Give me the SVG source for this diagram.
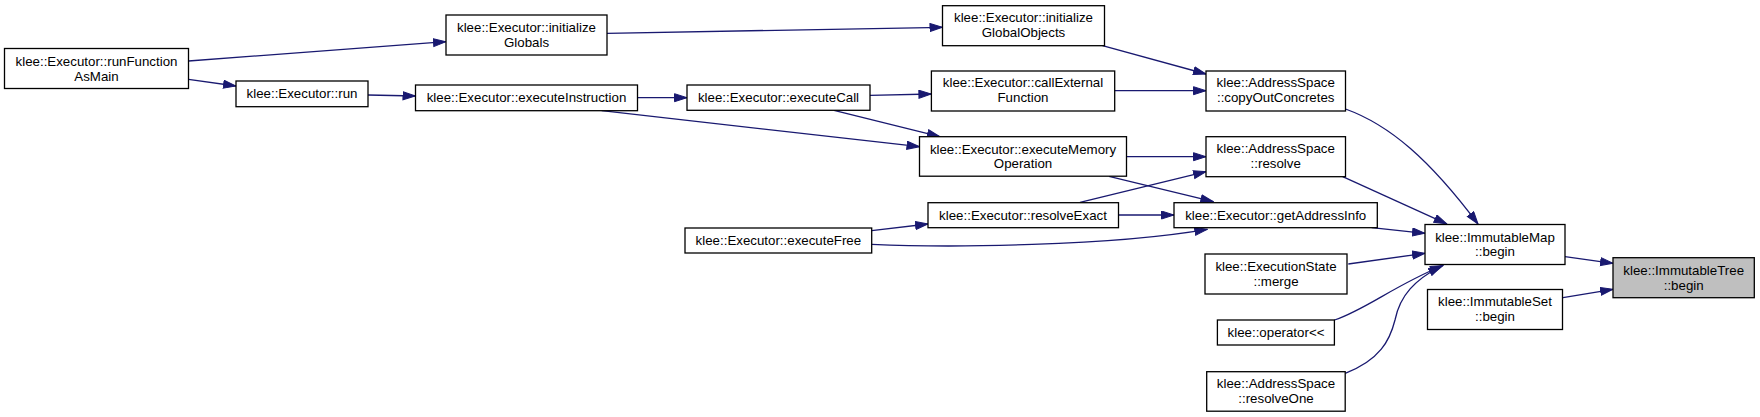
<svg xmlns="http://www.w3.org/2000/svg" width="1760" height="417" viewBox="0 0 1760 417">
<style>
.n rect{fill:#fff;stroke:#000;stroke-width:1.3}
.n text{font-family:"Liberation Sans",Arial,Helvetica,sans-serif;font-size:13.3px;fill:#000;text-anchor:middle}
.hl rect{fill:#bfbfbf}
.e path{fill:none;stroke:#191970;stroke-width:1.3;marker-end:url(#ah)}
</style>
<defs>
<marker id="ah" markerWidth="14" markerHeight="10" refX="13" refY="4.5" orient="auto" markerUnits="userSpaceOnUse">
<path d="M0.5,0.5 L13,4.5 L0.5,8.5 z" fill="#191970" stroke="#191970" stroke-width="1"/>
</marker>
</defs>
<rect width="1760" height="417" fill="#fff"/>
<g class="e" id="edges">
<path d="M188.5,61 L446,41.7"/>
<path d="M188.5,79.3 L236,86"/>
<path d="M368,95 L415.5,96"/>
<path d="M607,33.3 L942.5,27.3"/>
<path d="M637.3,97.7 L687,97.7"/>
<path d="M601.7,110.7 L919.5,146.7"/>
<path d="M869.8,95.3 L931.4,94"/>
<path d="M834,110.3 L939.8,136.7"/>
<path d="M1102.5,45.7 L1206,74"/>
<path d="M1114.7,90.7 L1206,90.7"/>
<path d="M1126.7,156.7 L1206,156.7"/>
<path d="M1109,176.3 L1213.3,201.7"/>
<path d="M1080,202.3 L1206,171.7"/>
<path d="M1118.5,215 L1174,215"/>
<path d="M871.7,230.7 L928,224"/>
<path d="M871.7,244.3 C950,248 1110,246 1207.3,229.3"/>
<path d="M1345.5,109 C1390,125 1430,160 1478,224"/>
<path d="M1342.7,176.7 L1446.7,223.8"/>
<path d="M1371.7,227.7 L1425,233.3"/>
<path d="M1348.3,264 L1425,253.3"/>
<path d="M1334.5,320 C1365,310 1395,285 1443,265.5"/>
<path d="M1345.2,373.3 C1380,360 1390,340 1395,320 C1400,295 1415,280 1441,266"/>
<path d="M1565,256.7 L1613,263.3"/>
<path d="M1563,297.7 L1613,289.3"/>
</g>
<g class="n" id="runFunctionAsMain"><rect x="4.5" y="48.5" width="184" height="40"/><text x="96.5" y="65.5">klee::Executor::runFunction</text><text x="96.5" y="80.5">AsMain</text></g>
<g class="n" id="initializeGlobals"><rect x="446" y="15" width="161" height="40"/><text x="526.5" y="31.5">klee::Executor::initialize</text><text x="526.5" y="46.5">Globals</text></g>
<g class="n" id="run"><rect x="236" y="81" width="132" height="25.7"/><text x="302" y="98.3">klee::Executor::run</text></g>
<g class="n" id="executeInstruction"><rect x="415.5" y="85" width="222" height="25.7"/><text x="526.5" y="102.3">klee::Executor::executeInstruction</text></g>
<g class="n" id="initializeGlobalObjects"><rect x="942.5" y="5.7" width="162" height="40"/><text x="1023.5" y="22">klee::Executor::initialize</text><text x="1023.5" y="37">GlobalObjects</text></g>
<g class="n" id="executeCall"><rect x="687" y="85" width="183" height="25.3"/><text x="778.5" y="102">klee::Executor::executeCall</text></g>
<g class="n" id="callExternalFunction"><rect x="931.4" y="71" width="183.3" height="40"/><text x="1023" y="87.3">klee::Executor::callExternal</text><text x="1023" y="102.3">Function</text></g>
<g class="n" id="executeMemoryOperation"><rect x="919.5" y="136.7" width="207" height="39.5"/><text x="1023" y="153.5">klee::Executor::executeMemory</text><text x="1023" y="168">Operation</text></g>
<g class="n" id="resolveExact"><rect x="928" y="202.7" width="190.5" height="25"/><text x="1023" y="219.7">klee::Executor::resolveExact</text></g>
<g class="n" id="executeFree"><rect x="685" y="228" width="186.7" height="25"/><text x="778.4" y="245">klee::Executor::executeFree</text></g>
<g class="n" id="copyOutConcretes"><rect x="1206" y="71" width="139.5" height="40"/><text x="1275.7" y="87.3">klee::AddressSpace</text><text x="1275.7" y="102.3">::copyOutConcretes</text></g>
<g class="n" id="resolve"><rect x="1206" y="136.7" width="139.5" height="40"/><text x="1275.7" y="153">klee::AddressSpace</text><text x="1275.7" y="168">::resolve</text></g>
<g class="n" id="getAddressInfo"><rect x="1174" y="202.7" width="203.3" height="25"/><text x="1275.7" y="219.7">klee::Executor::getAddressInfo</text></g>
<g class="n" id="merge"><rect x="1205" y="254" width="142" height="40"/><text x="1276" y="270.5">klee::ExecutionState</text><text x="1276" y="285.5">::merge</text></g>
<g class="n" id="operator"><rect x="1217.4" y="320" width="117" height="25"/><text x="1276" y="337">klee::operator&lt;&lt;</text></g>
<g class="n" id="resolveOne"><rect x="1206.7" y="371.7" width="138.5" height="39.5"/><text x="1276" y="387.7">klee::AddressSpace</text><text x="1276" y="402.5">::resolveOne</text></g>
<g class="n" id="ImmutableMapBegin"><rect x="1425" y="224.5" width="140" height="40"/><text x="1495" y="241.5">klee::ImmutableMap</text><text x="1495" y="256">::begin</text></g>
<g class="n" id="ImmutableSetBegin"><rect x="1427.5" y="289.5" width="135" height="40"/><text x="1495" y="306">klee::ImmutableSet</text><text x="1495" y="321">::begin</text></g>
<g class="n hl" id="ImmutableTreeBegin"><rect x="1613" y="257.7" width="141.3" height="40"/><text x="1683.7" y="274.5">klee::ImmutableTree</text><text x="1683.7" y="289.5">::begin</text></g>
</svg>
